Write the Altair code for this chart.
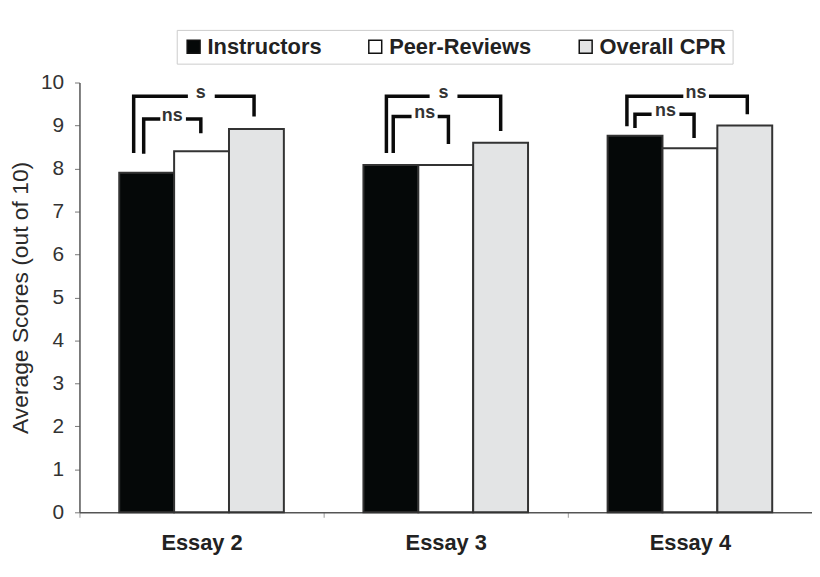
import altair as alt
import pandas as pd

# ---- data ----
essays = ["Essay 2", "Essay 3", "Essay 4"]
series_order = ["Instructors", "Peer-Reviews", "Overall CPR"]
instructors = [7.90, 8.08, 8.76]
peer_reviews = [8.40, 8.08, 8.47]
overall_cpr = [8.92, 8.60, 9.00]

# significance brackets (x in band units inside each essay, y in score units)
bracket_essay = ["Essay 2", "Essay 2", "Essay 3", "Essay 3", "Essay 4", "Essay 4"]
bracket_label = ["s", "ns", "s", "ns", "ns", "ns"]
bracket_top = [9.68, 9.15, 9.68, 9.21, 9.68, 9.26]
bracket_left_x = [0.222, 0.263, 0.257, 0.285, 0.242, 0.275]
bracket_right_x = [0.715, 0.497, 0.725, 0.511, 0.735, 0.517]
bracket_left_end = [8.36, 8.34, 8.36, 8.36, 8.98, 8.94]
bracket_right_end = [9.21, 8.82, 8.87, 8.57, 9.26, 8.71]
bracket_label_x = [0.497, 0.380, 0.491, 0.414, 0.525, 0.400]
bracket_gap_left = [0.444, 0.331, 0.434, 0.360, 0.473, 0.343]
bracket_gap_right = [0.554, 0.436, 0.548, 0.467, 0.578, 0.457]

colors = ["#050808", "#ffffff", "#e3e4e5"]
FONT = "Liberation Sans"

# ---- tables ----
rows = []
for e, a, b, c in zip(essays, instructors, peer_reviews, overall_cpr):
    rows += [
        {"essay": e, "series": series_order[0], "value": a},
        {"essay": e, "series": series_order[1], "value": b},
        {"essay": e, "series": series_order[2], "value": c},
    ]
bars_df = pd.DataFrame(rows)

path_rows = []
text_rows = []
for k, e in enumerate(bracket_essay):
    i = essays.index(e)
    top = bracket_top[k]
    left = [(i + bracket_left_x[k], bracket_left_end[k]),
            (i + bracket_left_x[k], top),
            (i + bracket_gap_left[k], top)]
    right = [(i + bracket_gap_right[k], top),
             (i + bracket_right_x[k], top),
             (i + bracket_right_x[k], bracket_right_end[k])]
    for side, pts in (("L", left), ("R", right)):
        for o, (bx, by) in enumerate(pts):
            path_rows.append({"path": f"{k}{side}", "ord": o, "bx": bx, "value": by})
    text_rows.append({"bx": i + bracket_label_x[k], "value": top, "label": bracket_label[k]})
paths_df = pd.DataFrame(path_rows)
text_df = pd.DataFrame(text_rows)

yscale = alt.Scale(domain=[0, 10], nice=False, zero=True)
yaxis = alt.Axis(
    title="Average Scores (out of 10)", values=list(range(0, 11)), grid=False,
    tickSize=5, tickColor="#777777", domainColor="#555555", domainWidth=1.5,
    labelFontSize=21, labelColor="#333333", labelPadding=11, labelFont=FONT,
    titleFontSize=23, titleFont=FONT, titleFontWeight="normal", titleColor="#2a2a2a",
    titlePadding=8,
)

bars = alt.Chart(bars_df).mark_bar(stroke="#333333", strokeWidth=2).encode(
    x=alt.X("essay:N", sort=essays, scale=alt.Scale(paddingInner=0, paddingOuter=0),
            axis=alt.Axis(title=None, labelAngle=0, tickBand="extent", tickSize=5,
                          tickColor="#999999", domainColor="#555555", domainWidth=1.5,
                          labelFontSize=22, labelFontWeight="bold", labelFont=FONT,
                          labelColor="#222222", labelPadding=15)),
    xOffset=alt.XOffset("series:N", sort=series_order,
                        scale=alt.Scale(paddingInner=0, paddingOuter=0.725)),
    y=alt.Y("value:Q", scale=yscale, axis=yaxis),
    fill=alt.Fill("series:N", sort=series_order,
                  scale=alt.Scale(domain=series_order, range=colors),
                  legend=alt.Legend(
                      title=None, orient="none", legendX=98, legendY=-53,
                      direction="horizontal", symbolType="square", symbolSize=169,
                      symbolStrokeColor="#111111", symbolStrokeWidth=1.5,
                      labelFont=FONT, labelFontSize=22, labelFontWeight="bold",
                      labelColor="#222222", labelOffset=3, columnPadding=43,
                      padding=6, strokeColor="#cccccc", fillColor="#ffffff")),
)

bxscale = alt.Scale(domain=[0, 3], nice=False, zero=False)
lines = alt.Chart(paths_df).mark_line(
    color="#0a0a0a", strokeWidth=3.5, strokeJoin="miter", strokeCap="butt"
).encode(
    x=alt.X("bx:Q", scale=bxscale,
            axis=alt.Axis(orient="top", labels=False, ticks=False, grid=False, title=None,
                          domainColor="#777777", domainWidth=1.5)),
    y=alt.Y("value:Q", scale=yscale, axis=yaxis),
    detail="path:N",
    order="ord:Q",
)
labels = alt.Chart(text_df).mark_text(
    font=FONT, fontSize=18, fontWeight="bold", color="#333333", baseline="middle", dy=-3
).encode(
    x=alt.X("bx:Q", scale=bxscale, axis=None),
    y=alt.Y("value:Q", scale=yscale, axis=yaxis),
    text="label:N",
)

chart = alt.layer(bars, alt.layer(lines, labels)).resolve_scale(x="independent").properties(
    width=738, height=433,
    autosize=alt.AutoSizeParams(type="none"),
    padding={"left": 72, "top": 73, "right": 0, "bottom": 49},
    background="#ffffff",
).configure_view(strokeWidth=0)

chart.save("out.html", embed_options={"renderer": "svg", "actions": False})
